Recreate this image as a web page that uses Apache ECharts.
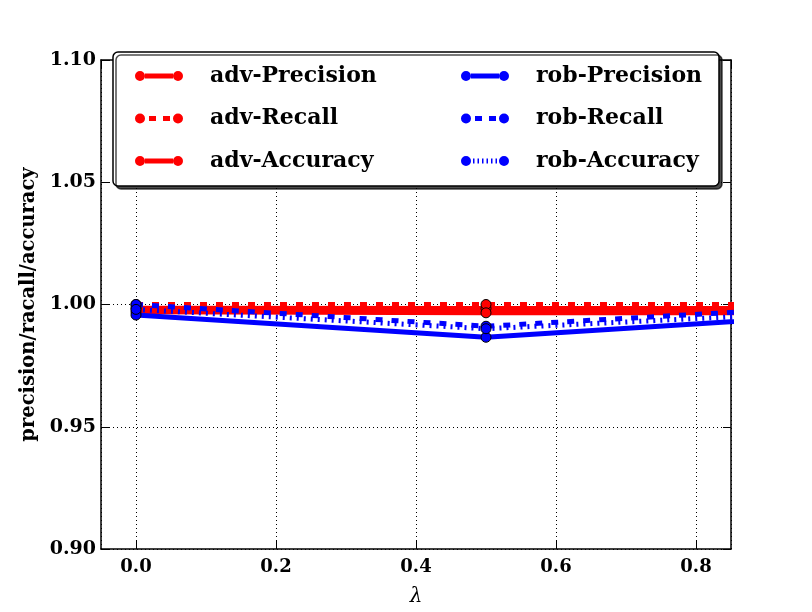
<!DOCTYPE html>
<html>
<head>
<meta charset="utf-8">
<script src="https://cdn.jsdelivr.net/npm/echarts@6/dist/echarts.min.js"></script>
<style>
  html, body { margin: 0; padding: 0; background: #fff; }
  #chart { width: 812px; height: 612px; }
</style>
</head>
<body>
<div id="chart"></div>
<script>
// values
var lambdas = [0, 0.5, 1.0];
var advPrecision = [0.9985, 0.9984, 0.9984];
var advRecall = [1.0, 1.0, 1.0];
var advAccuracy = [0.9970, 0.9966, 0.9966];
var robPrecision = [0.9957, 0.9866, 0.9957];
var robRecall = [1.0, 0.9911, 0.9992];
var robAccuracy = [0.9980, 0.9901, 0.9970];

var FONT = 'DejaVu Serif';

// legend sample: circle - line - circle (48 x 10 box)
var CIRCLES = 'M0,5a5,5 0 1,0 10,0a5,5 0 1,0 -10,0Z M38,5a5,5 0 1,0 10,0a5,5 0 1,0 -10,0Z ';
var ICON_SOLID = 'path://' + CIRCLES + 'M10,2.5L38,2.5L38,7.5L10,7.5Z';
var ICON_DASH = 'path://' + CIRCLES + 'M14,2.5L21,2.5L21,7.5L14,7.5Z M28,2.5L35,2.5L35,7.5L28,7.5Z';
var ICON_DOT = 'path://' + CIRCLES +
    'M12,2.5L13.5,2.5L13.5,7.5L12,7.5Z M16.5,2.5L18,2.5L18,7.5L16.5,7.5Z M21,2.5L22.5,2.5L22.5,7.5L21,7.5Z ' +
    'M25.5,2.5L27,2.5L27,7.5L25.5,7.5Z M30,2.5L31.5,2.5L31.5,7.5L30,7.5Z M34.5,2.5L36,2.5L36,7.5L34.5,7.5Z';

function pairs(ys) {
    return lambdas.map(function (x, i) { return [x, ys[i]]; });
}

function mkSeries(name, ys, color, dash) {
    return {
        name: name,
        type: 'line',
        data: pairs(ys),
        symbol: 'circle',
        symbolSize: 10,
        showSymbol: true,
        clip: true,
        lineStyle: { color: color, width: 5, type: dash },
        itemStyle: { color: color, borderColor: '#000', borderWidth: 1 },
        emphasis: { disabled: true }
    };
}

var chart = echarts.init(document.getElementById('chart'));

var legendText = {
    fontFamily: FONT,
    fontWeight: 'bold',
    fontSize: 22,
    color: '#000',
    padding: [0, 0, 0, 22]
};

function mkLegend(left, items) {
    return {
        orient: 'vertical',
        left: left,
        top: 60,
        z: 6,
        itemWidth: 48,
        itemHeight: 10,
        itemGap: 20.5,
        selectedMode: false,
        itemStyle: { borderWidth: 0 },
        data: items,
        textStyle: legendText
    };
}

var option = {
    animation: false,
    backgroundColor: '#fff',
    grid: { left: 101, right: 81, top: 60, bottom: 63 },
    graphic: [{
        type: 'rect',
        z: 5,
        shape: { x: 113, y: 52, width: 606, height: 134, r: 5 },
        style: {
            fill: '#fff',
            stroke: '#000',
            lineWidth: 1.5,
            shadowColor: 'rgba(0,0,0,0.7)',
            shadowOffsetX: 3,
            shadowOffsetY: 3,
            shadowBlur: 0
        }
    }],
    legend: [
        mkLegend(130, [
            { name: 'adv-Precision', icon: ICON_SOLID },
            { name: 'adv-Recall', icon: ICON_DASH },
            { name: 'adv-Accuracy', icon: ICON_SOLID }
        ]),
        mkLegend(456, [
            { name: 'rob-Precision', icon: ICON_SOLID },
            { name: 'rob-Recall', icon: ICON_DASH },
            { name: 'rob-Accuracy', icon: ICON_DOT }
        ])
    ],
    xAxis: [{
        type: 'value',
        min: -0.05,
        max: 0.85,
        name: 'λ',
        nameLocation: 'middle',
        nameGap: 38,
        nameTextStyle: { fontFamily: FONT, fontStyle: 'italic', fontSize: 20, color: '#000' },
        axisLine: { show: true, onZero: false, lineStyle: { color: '#000', width: 1.5 } },
        axisTick: { show: true, inside: true, length: 8, lineStyle: { color: '#000' } },
        axisLabel: {
            showMinLabel: false,
            showMaxLabel: false,
            margin: 9,
            fontFamily: FONT,
            fontWeight: 'bold',
            fontSize: 18,
            color: '#000',
            formatter: function (v) { return v.toFixed(1); }
        },
        splitLine: { show: true, lineStyle: { color: '#000', width: 1, type: [1, 3] } }
    }, {
        type: 'value',
        position: 'top',
        min: -0.05,
        max: 0.85,
        axisLine: { show: true, onZero: false, lineStyle: { color: '#000', width: 1.5 } },
        axisTick: { show: true, inside: true, length: 8, lineStyle: { color: '#000' } },
        axisLabel: { show: false },
        splitLine: { show: false }
    }],
    yAxis: [{
        type: 'value',
        min: 0.9,
        max: 1.1,
        interval: 0.05,
        name: 'precision/racall/accuracy',
        nameLocation: 'middle',
        nameGap: 54,
        nameTextStyle: { fontFamily: FONT, fontWeight: 'bold', fontSize: 19.5, color: '#000' },
        axisLine: { show: true, onZero: false, lineStyle: { color: '#000', width: 1.5 } },
        axisTick: { show: true, inside: true, length: 8, lineStyle: { color: '#000' } },
        axisLabel: {
            margin: 5,
            fontFamily: FONT,
            fontWeight: 'bold',
            fontSize: 19,
            color: '#000',
            formatter: function (v) { return v.toFixed(2); }
        },
        splitLine: { show: true, lineStyle: { color: '#000', width: 1, type: [1, 3] } }
    }, {
        type: 'value',
        position: 'right',
        min: 0.9,
        max: 1.1,
        interval: 0.05,
        axisLine: { show: true, onZero: false, lineStyle: { color: '#000', width: 1.5 } },
        axisTick: { show: true, inside: true, length: 8, lineStyle: { color: '#000' } },
        axisLabel: { show: false },
        splitLine: { show: false }
    }],
    series: [
        mkSeries('adv-Precision', advPrecision, '#ff0000', 'solid'),
        mkSeries('adv-Recall', advRecall, '#ff0000', [7, 9]),
        mkSeries('adv-Accuracy', advAccuracy, '#ff0000', 'solid'),
        mkSeries('rob-Precision', robPrecision, '#0000ff', 'solid'),
        mkSeries('rob-Recall', robRecall, '#0000ff', [7, 9]),
        mkSeries('rob-Accuracy', robAccuracy, '#0000ff', [2, 5])
    ]
};

chart.setOption(option);
</script>
</body>
</html>
